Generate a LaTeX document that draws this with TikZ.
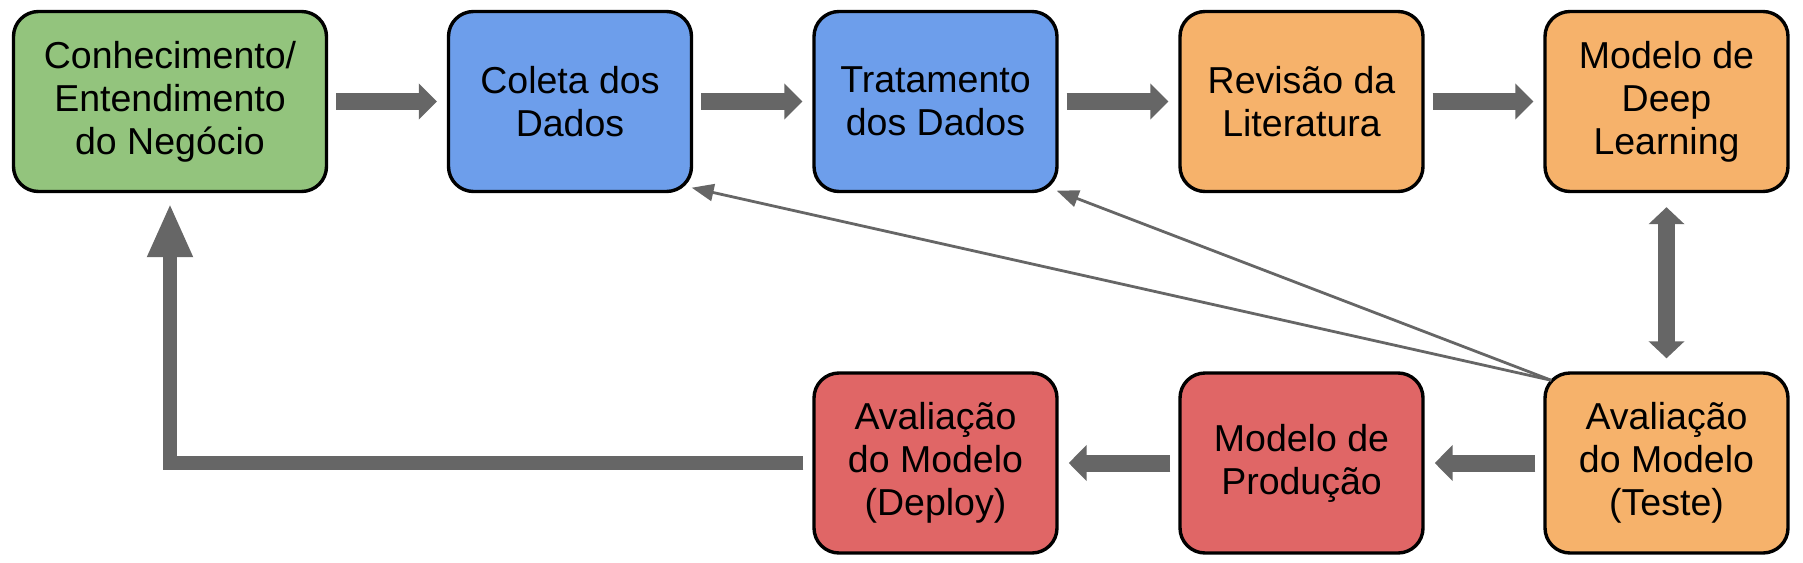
\documentclass[tikz,border=0pt]{standalone}
\usepackage{fontspec}
\setmainfont{Liberation Sans}
\usetikzlibrary{arrows.meta,calc}
\definecolor{cgreen}{HTML}{93C47D}
\definecolor{cblue}{HTML}{6D9EEB}
\definecolor{corange}{HTML}{F6B26B}
\definecolor{cred}{HTML}{E06666}
\definecolor{arrowgray}{HTML}{666666}
\begin{document}
\begin{tikzpicture}[x=1pt,y=-1pt,
  box/.style={draw=black,line width=3.4pt,rounded corners=25pt,minimum height=180pt,
    minimum width=243pt,align=center,inner sep=0pt,
    font=\fontsize{37.5}{43}\selectfont},
  blockarrow/.style={draw=arrowgray,line width=17pt,
    -{Triangle[length=18pt,width=35pt]}},
  bothblock/.style={draw=arrowgray,line width=17pt,
    {Triangle[length=17pt,width=35pt]}-{Triangle[length=17pt,width=35pt]}},
  backarrow/.style={draw=arrowgray,line width=14pt,line join=miter,
    -{Triangle[length=54pt,width=42pt]}},
  thinarrow/.style={draw=arrowgray,line width=2.8pt,
    -{Triangle[length=22pt,width=17pt]}}]
\useasboundingbox (0,0) rectangle (1803,562);

\node[box,fill=cgreen,minimum width=313pt] (b1) at (170,101.5) {Conhecimento/\\Entendimento\\do Negócio};
\node[box,fill=cblue] (b2) at (570,101.5) {Coleta dos\\Dados};
\node[box,fill=cblue] (b3) at (935.5,101.5) {Tratamento\\dos Dados};
\node[box,fill=corange] (b4) at (1301.5,101.5) {Revisão da\\Literatura};
\node[box,fill=corange] (b5) at (1666.5,101.5) {Modelo de\\Deep\\Learning};
\node[box,fill=cred] (b6) at (935.5,463) {Avaliação\\do Modelo\\(Deploy)};
\node[box,fill=cred] (b7) at (1301.5,463) {Modelo de\\Produção};
\node[box,fill=corange] (b8) at (1666.5,463) {Avaliação\\do Modelo\\(Teste)};

\draw[blockarrow] ([xshift=8pt]b1.east) -- ([xshift=-10pt]b2.west);
\draw[blockarrow] ([xshift=8pt]b2.east) -- ([xshift=-10pt]b3.west);
\draw[blockarrow] ([xshift=8pt]b3.east) -- ([xshift=-10pt]b4.west);
\draw[blockarrow] ([xshift=8pt]b4.east) -- ([xshift=-10pt]b5.west);
\draw[bothblock] ($(b5.south)+(0,14)$) -- ($(b8.north)+(0,-13)$);
\draw[blockarrow] ([xshift=-8pt]b8.west) -- ([xshift=10pt]b7.east);
\draw[blockarrow] ([xshift=-8pt]b7.west) -- ([xshift=10pt]b6.east);
\draw[backarrow] ([xshift=-9pt]b6.west) -| ($(b1.south)+(0,10)$);

\coordinate (src) at ($(b8.north west)+(8,9)$);
\coordinate (t2) at ($(b2.south east)+(-1.5,-5.5)$);
\coordinate (t3) at ($(b3.south east)+(-2,-2.5)$);
\draw[thinarrow] (src) -- (t2);
\draw[thinarrow] (src) -- (t3);
\end{tikzpicture}
\end{document}
